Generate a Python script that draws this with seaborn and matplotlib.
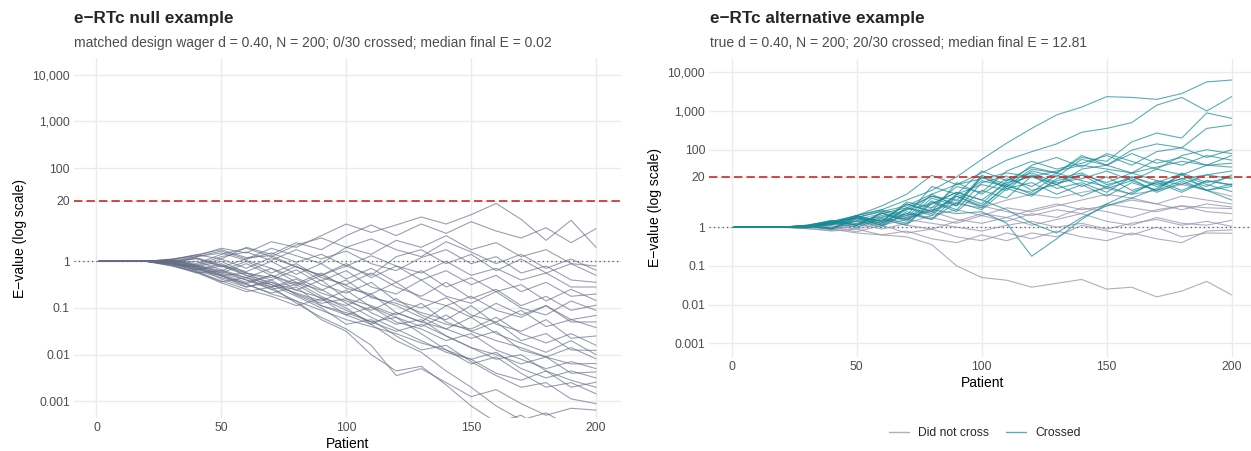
import numpy as np
import pandas as pd
import matplotlib
matplotlib.use("Agg")
import matplotlib.pyplot as plt
import seaborn as sns
from matplotlib.lines import Line2D
from matplotlib.ticker import FixedLocator, FixedFormatter, NullLocator

PATIENTS = [1, 20, 30, 40, 50, 60, 70, 80, 90, 100, 110, 120, 130, 140, 150, 160, 170, 180, 190, 200]

# null example: log10(E) per simulated trial (30 trials)
NULL_LOG10_E = [
    [0, 0, 0.05, 0.12, 0.28, 0.18, 0.42, 0.30, 0.55, 0.80, 0.62, 0.78, 0.95, 0.80, 1.00, 1.24, 0.90, 0.45, 0.88, 0.30],
    [0, 0, 0.03, 0.14, 0.05, 0.30, 0.15, 0.40, 0.25, 0.55, 0.78, 0.55, 0.80, 0.60, 0.85, 0.65, 0.50, 0.72, 0.40, 0.70],
    [0, 0, 0.04, -0.05, 0.15, 0.28, 0.10, 0.35, 0.50, 0.30, 0.15, 0.45, 0.30, 0.55, 0.25, 0.40, 0.10, 0.25, -0.05, -0.10],
    [0, 0, -0.02, 0.10, 0.22, 0.05, 0.28, 0.12, -0.05, 0.30, 0.48, 0.25, 0.10, 0.42, 0.20, -0.05, 0.15, -0.15, 0.05, -0.19],
    [0, 0, -0.05, -0.18, -0.30, -0.48, -0.30, -0.52, -0.30, -0.10, -0.30, 0.10, 0.25, -0.05, 0.15, -0.20, 0.05, -0.25, -0.05, -0.30],
    [0, 0, 0.03, -0.08, 0.10, 0.20, 0.02, 0.25, 0.05, 0.22, -0.05, -0.20, 0.08, 0.25, -0.05, 0.10, -0.25, -0.10, -0.40, -0.45],
    [0, 0, -0.03, 0.06, -0.12, 0.05, 0.18, -0.02, 0.15, -0.10, 0.12, -0.10, -0.25, 0.00, -0.30, -0.15, -0.40, -0.25, -0.55, -0.55],
    [0, 0, 0.02, -0.10, 0.05, -0.15, 0.08, -0.12, -0.30, -0.05, -0.35, -0.10, -0.40, -0.20, -0.50, -0.30, -0.65, -0.45, -0.75, -0.70],
    [0, 0, -0.04, 0.08, -0.08, -0.22, 0.00, -0.28, -0.05, -0.38, -0.15, -0.45, -0.20, -0.55, -0.35, -0.65, -0.50, -0.85, -0.60, -0.84],
    [0, 0, 0.01, -0.08, -0.20, 0.00, -0.25, -0.05, -0.35, -0.50, -0.25, -0.55, -0.75, -0.45, -0.80, -0.60, -0.95, -0.75, -1.05, -0.94],
    [0, 0, -0.02, -0.12, 0.00, -0.25, -0.35, -0.10, -0.42, -0.20, -0.55, -0.70, -0.40, -0.75, -0.90, -0.65, -1.00, -1.15, -0.85, -1.05],
    [0, 0, -0.07, -0.22, -0.42, -0.60, -0.75, -0.95, -0.80, -1.15, -1.35, -1.10, -1.30, -0.95, -1.20, -0.90, -1.15, -0.95, -1.25, -1.16],
    [0, 0, -0.05, -0.14, -0.25, -0.05, -0.30, -0.48, -0.25, -0.58, -0.70, -0.45, -0.80, -0.95, -0.75, -1.05, -1.20, -0.95, -1.30, -1.30],
    [0, 0, 0.00, 0.06, -0.10, -0.25, -0.40, -0.18, -0.50, -0.68, -0.45, -0.85, -1.00, -0.78, -1.15, -1.30, -1.05, -1.40, -1.25, -1.42],
    [0, 0, -0.03, -0.10, -0.22, -0.35, -0.15, -0.45, -0.62, -0.40, -0.78, -0.90, -1.10, -1.25, -0.95, -1.35, -1.50, -1.25, -1.65, -1.60],
    [0, 0, 0.02, -0.08, -0.25, -0.40, -0.55, -0.38, -0.68, -0.85, -1.05, -0.80, -1.15, -1.35, -1.45, -1.20, -1.55, -1.75, -1.55, -1.80],
    [0, 0, -0.06, -0.18, -0.05, -0.30, -0.45, -0.62, -0.40, -0.80, -0.95, -1.15, -0.90, -1.30, -1.50, -1.30, -1.70, -1.55, -1.90, -1.91],
    [0, 0, 0.01, -0.12, -0.28, -0.45, -0.30, -0.62, -0.78, -0.95, -0.70, -1.10, -1.30, -1.45, -1.20, -1.55, -1.75, -1.95, -1.70, -2.00],
    [0, 0, -0.04, 0.00, -0.18, -0.35, -0.50, -0.68, -0.85, -0.62, -0.98, -1.20, -1.40, -1.15, -1.50, -1.70, -1.85, -2.05, -1.85, -2.09],
    [0, 0, 0.04, 0.14, 0.25, 0.08, 0.12, -0.12, -0.30, -0.52, -0.75, -0.95, -1.20, -1.45, -1.65, -1.50, -1.90, -2.05, -2.20, -2.19],
    [0, 0, -0.02, -0.20, -0.35, -0.50, -0.68, -0.55, -0.95, -1.15, -0.98, -1.30, -1.45, -1.70, -1.55, -1.90, -2.10, -2.30, -2.15, -2.30],
    [0, 0, -0.05, -0.12, -0.38, -0.55, -0.40, -0.72, -0.95, -1.10, -1.30, -1.50, -1.35, -1.60, -1.85, -2.00, -2.20, -2.05, -2.40, -2.37],
    [0, 0, 0.00, -0.16, -0.32, -0.48, -0.70, -0.85, -1.05, -1.25, -1.40, -1.55, -1.75, -1.90, -2.10, -1.95, -2.30, -2.50, -2.35, -2.50],
    [0, 0, 0.02, 0.10, 0.18, 0.02, -0.15, -0.35, -0.60, -0.90, -1.20, -1.45, -1.70, -1.95, -2.10, -2.40, -2.55, -2.35, -2.70, -2.59],
    [0, 0, -0.03, -0.15, -0.30, -0.55, -0.45, -0.70, -0.90, -0.80, -1.10, -1.35, -1.25, -1.60, -1.85, -2.10, -2.00, -2.35, -2.55, -2.70],
    [0, 0, -0.08, -0.25, -0.20, -0.40, -0.60, -0.50, -0.80, -1.05, -1.30, -1.20, -1.55, -1.90, -2.20, -2.05, -2.40, -2.70, -2.60, -2.84],
    [0, 0, -0.05, -0.10, -0.30, -0.25, -0.50, -0.75, -1.00, -1.35, -1.25, -1.60, -1.90, -1.80, -2.15, -2.45, -2.70, -2.60, -2.95, -3.05],
    [0, 0, -0.09, -0.24, -0.46, -0.65, -0.55, -0.90, -1.20, -1.45, -1.80, -2.45, -2.30, -2.60, -2.90, -2.75, -3.05, -3.30, -3.15, -3.19],
    [0, 0, -0.06, -0.18, -0.10, -0.30, -0.55, -0.45, -0.75, -1.00, -1.35, -1.70, -1.95, -2.35, -2.70, -3.10, -3.40, -3.25, -3.55, -3.40],
    [0, 0, -0.10, -0.22, -0.44, -0.35, -0.60, -0.85, -1.25, -1.50, -2.00, -2.35, -2.25, -2.65, -3.10, -3.45, -3.30, -3.65, -3.50, -3.60],
]

# alternative example: trials that never reached the threshold (10)
ALT_NOT_CROSSED_LOG10_E = [
    [0, 0, 0.00, -0.05, -0.15, -0.20, -0.25, -0.45, -1.00, -1.30, -1.37, -1.55, -1.45, -1.35, -1.60, -1.55, -1.80, -1.65, -1.40, -1.75],
    [0, 0, -0.03, -0.10, -0.05, -0.20, -0.10, -0.30, -0.40, -0.20, -0.35, -0.15, -0.25, 0.05, -0.10, -0.20, 0.00, -0.25, -0.15, -0.16],
    [0, 0, 0.02, 0.00, -0.12, 0.05, -0.15, -0.05, -0.25, -0.35, -0.15, -0.30, -0.10, -0.25, -0.35, -0.15, -0.30, -0.40, -0.10, -0.07],
    [0, 0, 0.01, 0.05, 0.15, 0.05, 0.20, 0.10, 0.00, -0.10, 0.05, 0.15, 0.00, 0.10, -0.05, 0.10, 0.20, 0.05, 0.15, 0.02],
    [0, 0, -0.02, 0.08, 0.00, 0.15, 0.25, 0.40, 0.20, 0.10, 0.25, 0.05, 0.20, 0.35, 0.15, 0.05, 0.25, 0.10, 0.05, 0.18],
    [0, 0, 0.03, -0.05, 0.10, -0.05, 0.10, 0.30, 0.45, 0.30, 0.15, 0.35, 0.25, 0.50, 0.40, 0.25, 0.45, 0.55, 0.40, 0.35],
    [0, 0, 0.00, 0.10, 0.20, 0.35, 0.20, 0.50, 0.70, 0.55, 0.40, 0.30, 0.45, 0.35, 0.60, 0.50, 0.40, 0.55, 0.50, 0.48],
    [0, 0, -0.04, -0.08, 0.05, 0.20, 0.05, -0.05, 0.15, 0.35, 0.25, 0.45, 0.60, 0.45, 0.55, 0.70, 0.60, 0.45, 0.60, 0.52],
    [0, 0, 0.02, 0.12, 0.25, 0.15, 0.35, 0.25, 0.10, 0.30, 0.50, 0.40, 0.55, 0.70, 0.85, 0.75, 0.60, 0.80, 0.70, 0.60],
    [0, 0, 0.01, 0.03, -0.05, 0.10, 0.30, 0.45, 0.60, 0.50, 0.70, 0.85, 0.75, 0.90, 1.00, 0.85, 0.95, 1.10, 0.95, 0.80],
]

# alternative example: trials that crossed E = 20 at some point (20)
ALT_CROSSED_LOG10_E = [
    [0, 0, 0.05, 0.15, 0.30, 0.45, 0.70, 0.95, 1.30, 1.75, 2.17, 2.55, 2.90, 3.10, 3.37, 3.35, 3.30, 3.45, 3.75, 3.80],
    [0, 0, 0.03, 0.12, 0.25, 0.40, 0.55, 0.85, 1.10, 1.40, 1.73, 1.95, 2.15, 2.45, 2.55, 2.70, 3.15, 3.35, 3.00, 3.37],
    [0, 0, 0.02, 0.15, 0.05, 0.35, 0.50, 0.80, 0.70, 1.20, 1.05, 1.50, 1.40, 1.80, 1.70, 2.20, 2.43, 2.30, 2.95, 2.81],
    [0, 0, 0.04, -0.02, 0.22, 0.10, 0.50, 0.35, 0.85, 1.10, 0.95, 1.45, 1.30, 1.75, 1.60, 1.99, 2.15, 2.05, 2.55, 2.64],
    [0, 0, 0.01, 0.14, 0.28, 0.15, 0.65, 0.50, 1.05, 0.90, 1.45, 1.70, 1.50, 1.65, 1.85, 1.60, 1.95, 2.05, 1.80, 2.00],
    [0, 0, 0.03, 0.06, 0.25, 0.10, 0.45, 0.80, 0.60, 1.34, 1.10, 1.60, 1.80, 1.55, 1.90, 1.70, 1.50, 1.85, 2.00, 1.90],
    [0, 0, -0.02, 0.10, 0.30, 0.45, 0.30, 1.05, 0.85, 1.45, 1.20, 1.55, 1.40, 1.85, 1.60, 1.90, 1.65, 1.80, 1.60, 1.85],
    [0, 0, 0.04, 0.18, 0.05, 0.25, 0.10, 0.60, 0.90, 0.70, 1.15, 1.30, 1.10, 1.50, 1.60, 1.40, 1.75, 1.60, 1.85, 1.73],
    [0, 0, 0.02, 0.08, 0.30, 0.55, 0.85, 1.34, 1.10, 1.25, 1.40, 1.30, 1.45, 1.60, 1.50, 1.40, 1.55, 1.70, 1.60, 1.65],
    [0, 0, 0.00, 0.10, 0.25, 0.05, 0.50, 0.30, 0.85, 0.60, 1.20, 1.40, 1.15, 1.25, 1.45, 1.20, 1.50, 1.35, 1.60, 1.55],
    [0, 0, 0.05, 0.16, 0.05, 0.38, 0.20, 0.75, 0.55, 1.30, 1.05, 1.35, 1.10, 1.35, 1.15, 1.40, 1.20, 1.10, 1.35, 1.45],
    [0, 0, 0.01, 0.11, 0.30, 0.15, 0.60, 0.40, 1.15, 0.85, 1.25, 1.05, 1.40, 1.20, 1.05, 1.30, 1.10, 1.25, 1.05, 1.35],
    [0, 0, 0.03, -0.05, 0.17, 0.00, 0.40, 0.20, 0.80, 0.50, 1.10, 0.85, 1.20, 1.35, 1.00, 1.20, 0.95, 1.40, 1.15, 1.30],
    [0, 0, -0.01, 0.12, 0.00, 0.22, 0.05, 0.65, 0.40, 0.95, 0.75, 1.32, 1.00, 1.15, 0.90, 1.30, 1.05, 1.25, 1.35, 1.25],
    [0, 0, 0.02, 0.07, 0.25, 0.42, 0.25, 0.85, 0.55, 1.30, 1.00, 1.15, 0.85, 1.10, 0.80, 1.15, 0.95, 1.20, 0.95, 1.115],
    [0, 0, 0.04, -0.03, 0.27, 0.15, 0.60, 0.40, 0.80, 0.55, 1.05, 0.90, 1.35, 1.05, 1.30, 0.95, 1.15, 0.90, 1.20, 1.10],
    [0, 0, 0.01, 0.15, 0.05, 0.36, 0.15, 0.68, 0.45, 1.15, 1.32, 0.95, 1.10, 0.80, 1.05, 0.85, 1.20, 0.95, 1.20, 1.08],
    [0, 0, 0.03, -0.05, 0.23, 0.05, 0.35, 0.20, 0.65, 0.45, 1.00, 0.80, 1.25, 1.40, 1.10, 1.25, 0.90, 1.15, 0.95, 1.05],
    [0, 0, 0.00, 0.08, 0.16, 0.26, 0.45, 0.60, 0.90, 0.70, 0.45, 0.10, -0.15, 0.25, 0.55, 0.75, 1.00, 1.35, 1.10, 0.92],
    [0, 0, 0.02, 0.12, 0.10, 0.30, 0.20, 0.45, 0.35, 0.40, 0.10, -0.75, -0.30, 0.20, 0.60, 0.90, 1.15, 1.38, 0.95, 0.70],
]

THRESHOLD = 20
Y_TICKS = [0.001, 0.01, 0.1, 1, 20, 100, 1000, 10000]
Y_TICK_LABELS = ["0.001", "0.01", "0.1", "1", "20", "100", "1,000", "10,000"]
X_TICKS = [0, 50, 100, 150, 200]

NULL_TITLE = "e\u2212RTc null example"
NULL_SUB = "matched design wager d = 0.40, N = 200; 0/30 crossed; median final E = 0.02"
ALT_TITLE = "e\u2212RTc alternative example"
ALT_SUB = "true d = 0.40, N = 200; 20/30 crossed; median final E = 12.81"

NULL_COLOR = "#646d85"
NOT_CROSSED_COLOR = "#8d8bab"
CROSSED_COLOR = "#168a96"


def to_long(paths, status):
    rows = []
    for i, path in enumerate(paths):
        for p, v in zip(PATIENTS, path):
            rows.append({"sim": f"{status}_{i}", "patient": p, "evalue": 10 ** v, "status": status})
    return pd.DataFrame(rows)


def style_axis(ax):
    ax.set_yscale("log")
    ax.set_xlim(-8.95, 209.95)
    ax.set_ylim(10 ** -3.35, 10 ** 4.35)
    ax.yaxis.set_major_locator(FixedLocator(Y_TICKS))
    ax.yaxis.set_major_formatter(FixedFormatter(Y_TICK_LABELS))
    ax.yaxis.set_minor_locator(NullLocator())
    ax.set_xticks(X_TICKS)
    ax.grid(True, color="#ebebeb", lw=1.0)
    ax.set_axisbelow(True)
    for s in ax.spines.values():
        s.set_visible(False)
    ax.tick_params(length=0, labelsize=8.7, labelcolor="#4d4d4d", pad=3)
    ax.axhline(1, color="#555555", lw=0.9, ls=(0, (1, 2.5)), zorder=1)
    ax.axhline(THRESHOLD, color="#cc2a22", lw=1.2, ls=(0, (5, 2.5)), zorder=5)
    ax.set_xlabel("Patient", fontsize=10, color="black", labelpad=2)
    ax.set_ylabel("E\u2212value (log scale)", fontsize=10, color="black", labelpad=4)


sns.set_theme(style="white")
plt.rcParams["font.family"] = ["Liberation Sans", "DejaVu Sans"]

W, H = 1251, 451
fig = plt.figure(figsize=(W / 100, H / 100), dpi=100)
ax1 = fig.add_axes([74.1 / W, 1 - 417.6 / H, 546.8 / W, 359.2 / H])
ax2 = fig.add_axes([709.3 / W, 1 - 356.9 / H, 547.3 / W, 298.2 / H])

null_df = to_long(NULL_LOG10_E, "null")
sns.lineplot(data=null_df, x="patient", y="evalue", units="sim", estimator=None,
             color=NULL_COLOR, alpha=0.65, lw=0.8, ax=ax1, legend=False, zorder=3)

nc_df = to_long(ALT_NOT_CROSSED_LOG10_E, "Did not cross")
cr_df = to_long(ALT_CROSSED_LOG10_E, "Crossed")
sns.lineplot(data=nc_df, x="patient", y="evalue", units="sim", estimator=None,
             color=NOT_CROSSED_COLOR, alpha=0.7, lw=0.8, ax=ax2, legend=False, zorder=3)
sns.lineplot(data=cr_df, x="patient", y="evalue", units="sim", estimator=None,
             color=CROSSED_COLOR, alpha=0.7, lw=0.8, ax=ax2, legend=False, zorder=4)

style_axis(ax1)
style_axis(ax2)

fig.text(74.5 / W, 1 - 18 / H, NULL_TITLE, fontsize=12.3, fontweight="bold", va="center")
fig.text(74.5 / W, 1 - 43 / H, NULL_SUB, fontsize=10, color="#4d4d4d", va="center")
fig.text(709.5 / W, 1 - 18 / H, ALT_TITLE, fontsize=12.3, fontweight="bold", va="center")
fig.text(709.5 / W, 1 - 43 / H, ALT_SUB, fontsize=10, color="#4d4d4d", va="center")

handles = [Line2D([], [], color=NOT_CROSSED_COLOR, alpha=0.7, lw=1.0),
           Line2D([], [], color=CROSSED_COLOR, alpha=0.7, lw=1.0)]
fig.legend(handles, ["Did not cross", "Crossed"], loc="center", bbox_to_anchor=(985 / W, 1 - 433 / H),
           ncol=2, frameon=False, fontsize=8.7, handlelength=1.6, handletextpad=0.8, columnspacing=1.4)

fig.savefig("out.png", dpi=100)
